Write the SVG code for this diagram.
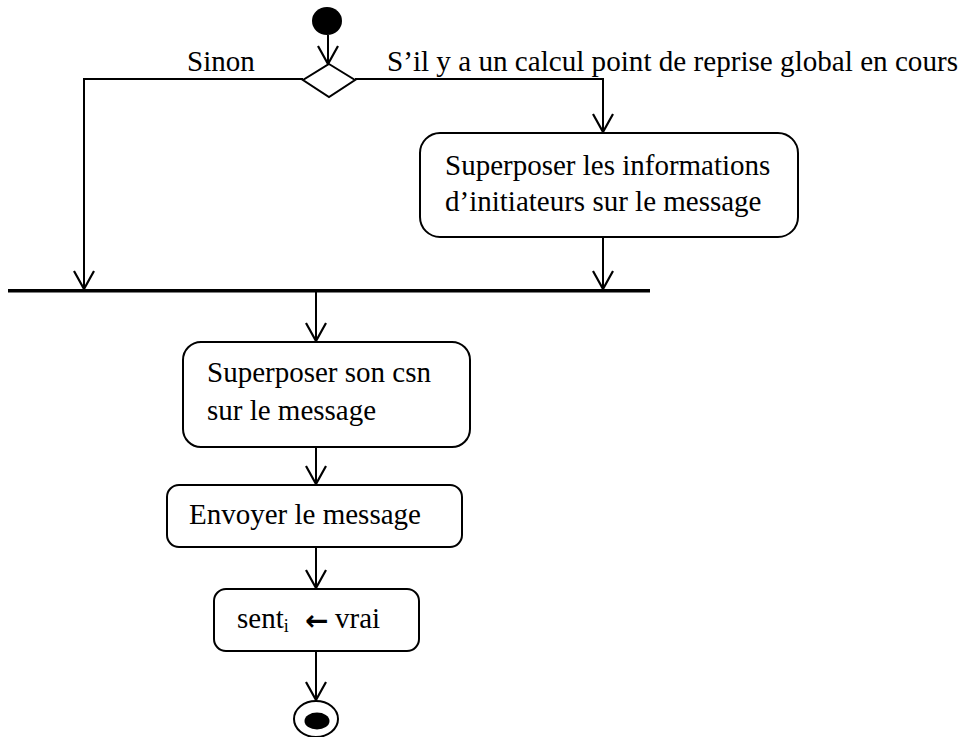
<svg xmlns="http://www.w3.org/2000/svg" width="964" height="737" viewBox="0 0 964 737">
  <style>
    .lbl { font-family: "Liberation Serif", "Times New Roman", serif; font-size: 29px; fill: #000; }
    .act { fill: #fff; stroke: #000; stroke-width: 2; }
    .flow { fill: none; stroke: #000; stroke-width: 2; }
  </style>
  <defs>
    <!-- open V arrowhead, drawn along +x so orient="auto" points it down the line -->
    <marker id="open" viewBox="0 0 20 22" refX="19" refY="11" markerWidth="20" markerHeight="22" markerUnits="userSpaceOnUse" orient="auto">
      <path d="M1,1 L19,11 L1,21" fill="none" stroke="#000" stroke-width="2.2"/>
    </marker>
  </defs>
  <rect width="964" height="737" fill="#fff"/>

  <!-- connectors -->
  <g id="connectors" class="flow">
    <path d="M328,35 V64" marker-end="url(#open)"/>
    <path d="M303,79 H84 V289" marker-end="url(#open)"/>
    <path d="M355,79 H603 V132" marker-end="url(#open)"/>
    <path d="M603,238 V289" marker-end="url(#open)"/>
    <path d="M316,292 V341" marker-end="url(#open)"/>
    <path d="M316,448 V484" marker-end="url(#open)"/>
    <path d="M316,548 V588" marker-end="url(#open)"/>
    <path d="M316,652 V700" marker-end="url(#open)"/>
  </g>

  <!-- initial node -->
  <g id="start">
    <ellipse cx="327" cy="21" rx="15" ry="14" fill="#000"/>
  </g>

  <!-- decision -->
  <g id="decision">
    <polygon points="329,64 355,80 329,97 303,80" fill="#fff" stroke="#000" stroke-width="2"/>
    <text class="lbl" x="187" y="71">Sinon</text>
    <text class="lbl" x="387" y="71" textLength="571" lengthAdjust="spacingAndGlyphs">S’il y a un calcul point de reprise global en cours</text>
  </g>

  <!-- action: superpose initiator info -->
  <g id="superposerInit">
    <rect class="act" x="420" y="133" width="378" height="104" rx="20"/>
    <text class="lbl" x="445" y="175">Superposer les informations</text>
    <text class="lbl" x="445" y="211">d’initiateurs sur le message</text>
  </g>

  <!-- join bar -->
  <g id="join">
    <rect x="8" y="289" width="642" height="3.5" fill="#000"/>
  </g>

  <!-- action: superpose csn -->
  <g id="superposerCsn">
    <rect class="act" x="183" y="342" width="287" height="105" rx="18"/>
    <text class="lbl" x="207" y="382">Superposer son csn</text>
    <text class="lbl" x="207" y="420">sur le message</text>
  </g>

  <!-- action: send -->
  <g id="envoyer">
    <rect class="act" x="167" y="485" width="295" height="62" rx="12"/>
    <text class="lbl" x="189" y="524">Envoyer le message</text>
  </g>

  <!-- action: assignment -->
  <g id="sent">
    <rect class="act" x="214" y="589" width="205" height="62" rx="12"/>
    <text class="lbl" x="237" y="628">sent<tspan style="font-size:18px" dy="4">i</tspan></text>
    <text x="305" y="630" style="font-family:'DejaVu Sans', sans-serif; font-size:28px; font-weight:bold">←</text>
    <text class="lbl" x="335" y="628">vrai</text>
  </g>

  <!-- final node -->
  <g id="end">
    <ellipse cx="316" cy="719" rx="22" ry="18" fill="#fff" stroke="#000" stroke-width="2"/>
    <ellipse cx="317" cy="721" rx="12.5" ry="8.5" fill="#000"/>
  </g>
</svg>
